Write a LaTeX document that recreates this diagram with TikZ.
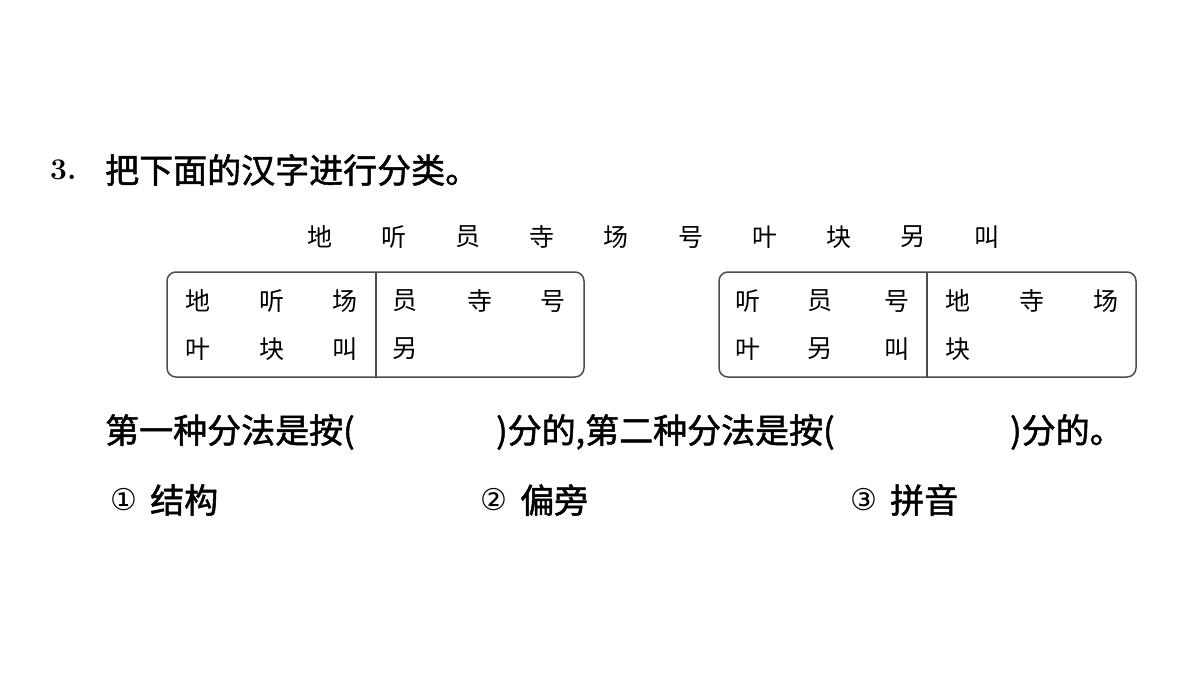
\documentclass[tikz,border=0pt]{standalone}
\usepackage{fontspec}
\newfontfamily\cjk{Noto Sans CJK SC}
\newfontfamily\cjkb{Noto Sans CJK SC}[FakeBold=1.5]
\newfontfamily\djv{DejaVu Sans}
\begin{document}
\begin{tikzpicture}[x=1pt,y=-1pt,
 big/.style={font=\cjkb\fontsize{34}{36}\selectfont,inner sep=0,anchor=west},
 ch/.style={font=\cjk\fontsize{25}{26}\selectfont,inner sep=0},
 box/.style={draw=black!70,line width=1.5pt,rounded corners=9pt}]
\useasboundingbox (0,0) rectangle (1200,675);
\node[anchor=west,inner sep=0,font=\bfseries\fontsize{30}{32}\selectfont] (n) at (50,170) {3.};
\node[big] (t) at (105,170) {把下面的汉字进行分类。};
\foreach \c [count=\i] in {地,听,员,寺,场,号,叶,块,另,叫}
  \node[ch] (r\i) at ({320+74.1*(\i-1)},237) {\c};
\draw[box] (167,272) rectangle (584,377);
\draw[line width=1.5pt,black!70] (376,272) -- (376,377);
\draw[box] (719,272) rectangle (1136,377);
\draw[line width=1.5pt,black!70] (927,272) -- (927,377);
\foreach \c/\x/\y [count=\i] in {地/198/301,听/272/301,场/345/301,员/405/301,寺/480/301,号/553/301,叶/198/349,块/272/349,叫/345/349,另/405/349,
 听/748/301,员/820/301,号/897/301,地/958/301,寺/1032/301,场/1106/301,叶/748/349,另/820/349,叫/897/349,块/958/349}
  \node[ch] (b\i) at (\x,\y) {\c};
\node[big] (q1) at (105,432) {第一种分法是按(};
\node[big] (q2) at (496,432) {)分的,第二种分法是按(};
\node[big] (q3) at (1010,432) {)分的。};
\node[inner sep=0,font=\djv\fontsize{30}{30}\selectfont] (o1) at (124,500) {①};
\node[big] (a1) at (150,500) {结构};
\node[inner sep=0,font=\djv\fontsize{30}{30}\selectfont] (o2) at (494,500) {②};
\node[big] (a2) at (520,500) {偏旁};
\node[inner sep=0,font=\djv\fontsize{30}{30}\selectfont] (o3) at (864,500) {③};
\node[big] (a3) at (890,500) {拼音};
\end{tikzpicture}
\end{document}
